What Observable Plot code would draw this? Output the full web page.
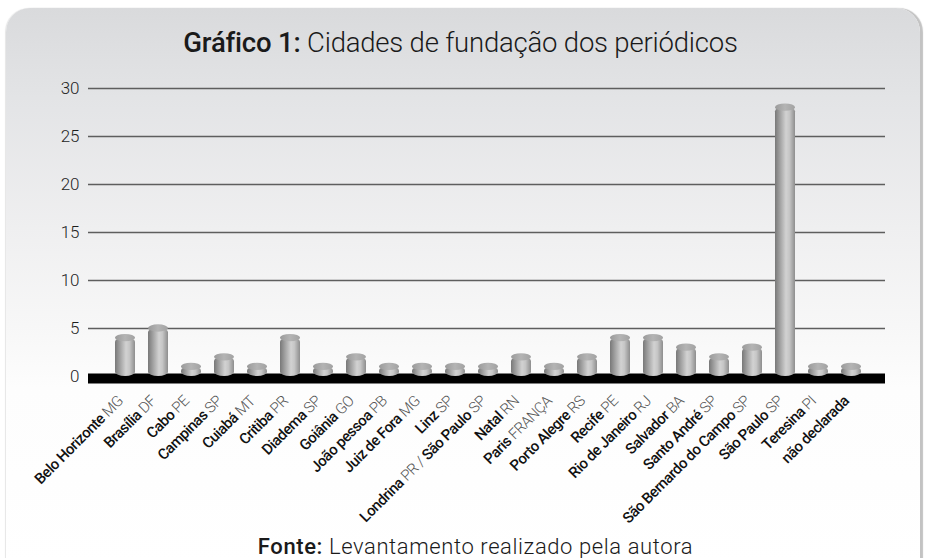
<!DOCTYPE html>
<html>
<head>
<meta charset="utf-8">
<script src="https://cdn.jsdelivr.net/npm/d3@7"></script>
<script src="https://cdn.jsdelivr.net/npm/@observablehq/plot@0.6"></script>
<style>
  body { margin: 0; background: #fff; font-family: Roboto, "Liberation Sans", sans-serif; }
  #page { position: relative; width: 929px; height: 558px; overflow: hidden; }
  #panel {
    position: absolute; left: 6px; top: 8px; width: 914px; height: 620px;
    border-radius: 24px 24px 0 0;
    background: linear-gradient(#d9dadc 0px, #e3e4e6 90px, #efeff0 220px, #f8f8f8 330px, #fdfdfd 380px, #ffffff 560px);
    box-shadow: 3px 0 1px #c3c3c3, -1px 0 1px #e6e6e6;
  }
  #content { position: relative; }
  #title {
    height: 60px; box-sizing: border-box; padding-top: 30px; padding-right: 8px;
    text-align: center; font-size: 27.5px; line-height: 26px; color: #1a1a1a;
    font-weight: 300; letter-spacing: -0.2px; white-space: nowrap;
  }
  #title b { font-weight: 500; }
  #caption {
    text-align: center; font-size: 22px; line-height: 21px; color: #1a1a1a;
    font-weight: 300; padding-left: 22px; margin-top: 0px; letter-spacing: 0.6px; white-space: nowrap;
  }
  #caption b { font-weight: 500; }
</style>
</head>
<body>
<div id="page">
  <div id="panel"></div>
  <div id="content">
    <div id="title"><b>Gráfico 1:</b> Cidades de fundação dos periódicos</div>
    <div id="chart"></div>
    <div id="caption"><b>Fonte:</b> Levantamento realizado pela autora</div>
  </div>
</div>
<script>
const cities = [
  "Belo Horizonte MG", "Brasília DF", "Cabo PE", "Campinas SP", "Cuiabá MT",
  "Critiba PR", "Diadema SP", "Goiânia GO", "João pessoa PB", "Juiz de Fora MG",
  "Linz SP", "Londrina PR / São Paulo SP", "Natal RN", "Paris FRANÇA", "Porto Alegre RS",
  "Recife PE", "Rio de Janeiro RJ", "Salvador BA", "Santo André SP",
  "São Bernardo do Campo SP", "São Paulo SP", "Teresina PI", "não declarada"
];
const counts = [4, 5, 1, 2, 1, 4, 1, 2, 1, 1, 1, 1, 2, 1, 2, 4, 4, 3, 2, 3, 28, 1, 1];
const yTicks = [0, 5, 10, 15, 20, 25, 30];

const data = cities.map((c, i) => ({city: c, value: counts[i]}));

const chart = Plot.plot({
  width: 929,
  height: 476,
  marginLeft: 88,
  marginRight: 44,
  marginTop: 28,
  marginBottom: 160,
  style: { background: "transparent", color: "#222", fontFamily: "Roboto, 'Liberation Sans', sans-serif" },
  x: { domain: cities, paddingInner: 0.4, paddingOuter: 0.2, insetLeft: 18, insetRight: 15, label: null },
  y: { domain: [0, 30], label: null },
  marks: [
    Plot.gridY(yTicks.filter(t => t > 0), { stroke: "#5e5e5e", strokeOpacity: 1, strokeWidth: 1.3 }),
    Plot.ruleY([0], { stroke: "#000", strokeWidth: 10, dy: 2 }),
    Plot.barY(data, { x: "city", y: "value", fill: "url(#cyl)", rx: 10, ry: 4 }),
    Plot.barY(data, { x: "city", y1: d => d.value - 0.38, y2: d => d.value + 0.38, fill: "url(#cap)", rx: 10, ry: 3.6 }),
    Plot.axisY({ ticks: yTicks, tickSize: 0, tickPadding: 9, fontSize: 17, fontWeight: 300, fill: "#1e1e1e", label: null }),
    Plot.axisX({ tickRotate: -45, tickSize: 0, tickPadding: 22, dx: -5, fontSize: 15, label: null })
  ]
});

// gradients for cylinder look
const svg = d3.select(chart);
const defs = svg.insert("defs", ":first-child");
const g1 = defs.append("linearGradient").attr("id", "cyl").attr("x1", "0").attr("x2", "1").attr("y1", "0").attr("y2", "0");
[["0%", "#787878"], ["12%", "#8c8c8c"], ["55%", "#d2d2d2"], ["72%", "#c6c6c6"], ["100%", "#8e8e8e"]]
  .forEach(([o, c]) => g1.append("stop").attr("offset", o).attr("stop-color", c));
const g2 = defs.append("linearGradient").attr("id", "cap").attr("x1", "0").attr("x2", "1").attr("y1", "0").attr("y2", "0");
[["0%", "#9a9a9a"], ["50%", "#b4b4b4"], ["100%", "#a2a2a2"]]
  .forEach(([o, c]) => g2.append("stop").attr("offset", o).attr("stop-color", c));

// mixed-weight x tick labels: names bold, state abbreviations light
svg.selectAll('g[aria-label="x-axis tick label"] text').each(function () {
  const label = this.textContent;
  const t = d3.select(this);
  t.text("");
  const tokens = label.split(" ");
  tokens.forEach((tok, i) => {
    const light = tok === "/" || (/^[A-ZÇÃ]{2,}$/.test(tok));
    t.append("tspan")
      .text((i > 0 ? " " : "") + tok)
      .attr("font-weight", light ? 300 : 500)
      .attr("fill", light ? "#555" : "#111")
      .attr("letter-spacing", "-0.5");
  });
});

document.getElementById("chart").appendChild(chart);
</script>
</body>
</html>
